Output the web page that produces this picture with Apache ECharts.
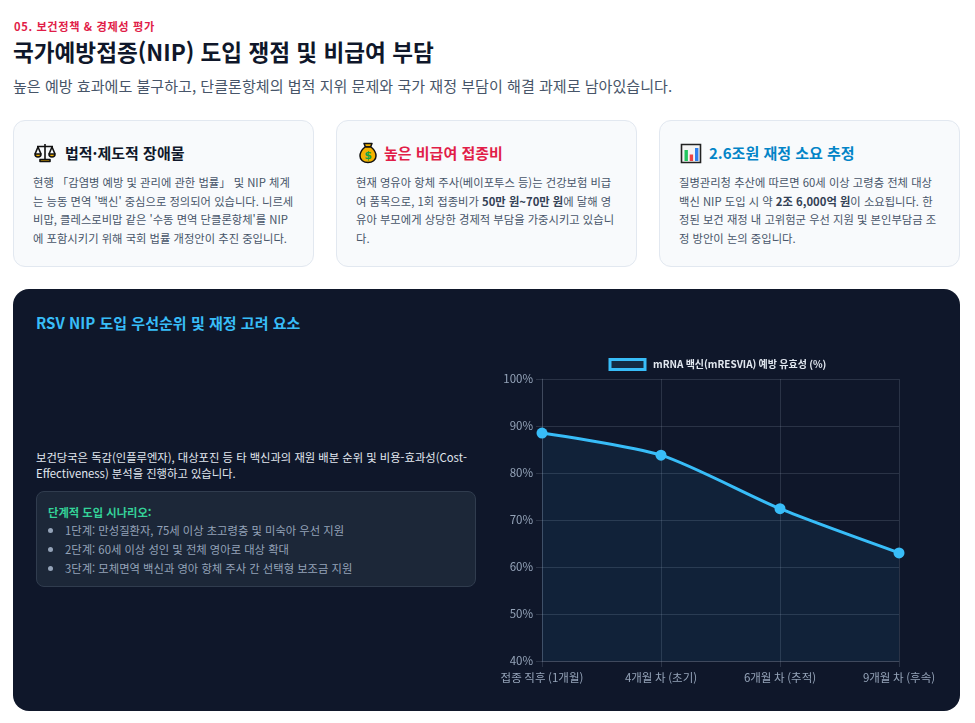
<!DOCTYPE html>
<html lang="ko"><head><meta charset="utf-8">
<script src="https://cdn.jsdelivr.net/npm/echarts@6/dist/echarts.min.js"></script>
<style>
*{box-sizing:border-box}
html,body{margin:0;padding:0;background:#fff;width:975px;height:723px;overflow:hidden;font-family:"Noto Sans CJK KR","Noto Sans",sans-serif}
.abs{position:absolute}
.eyebrow{left:14px;top:18px;font-size:11.2px;font-weight:700;color:#e11d48;letter-spacing:.62px;line-height:16px;white-space:nowrap}
h1{margin:0;left:13px;top:34px;font-size:22.6px;font-weight:700;color:#0f172a;line-height:36px;white-space:nowrap}
.sub{left:13px;top:75px;font-size:15.07px;color:#475569;line-height:22px;white-space:nowrap}
.card{top:120px;width:301px;height:147px;background:#f8fafc;border:1px solid #e2e8f0;border-radius:12px}
.card h3{position:absolute;top:20px;margin:0;font-size:15px;font-weight:700;line-height:24px;color:#0f172a;white-space:nowrap}
.card svg{position:absolute;left:20px;top:21px}
.card p{position:absolute;left:19px;top:52px;margin:0;font-size:11.3px;line-height:18.5px;color:#475569;text-align:left;width:261px}
.card p b{font-weight:700;color:#334155}
.panel{left:13px;top:289px;width:947px;height:422px;background:#0f172a;border-radius:16px}
.ptitle{left:36px;top:311px;font-size:15.05px;font-weight:700;color:#38bdf8;line-height:24px;white-space:nowrap}
.lead{left:36px;top:449px;width:440px;font-size:11.3px;line-height:16px;color:#e2e8f0}
.box{left:36px;top:491px;width:440px;height:96px;background:#1c2738;border:1px solid #303c4e;border-radius:8px}
.box .t{position:absolute;left:11px;top:11px;font-size:11.3px;font-weight:700;color:#34d399;line-height:18px;white-space:nowrap}
.box ul{position:absolute;left:0;top:29px;margin:0;padding:0 0 0 28px;list-style:none;font-size:11.3px;line-height:19px;color:#94a3b8;white-space:nowrap}
.box li{position:relative}
.box li::before{content:"";position:absolute;left:-17px;top:7px;width:5px;height:5px;border-radius:50%;background:#94a3b8}
#chart{left:490px;top:345px;width:460px;height:355px}
</style></head><body>
<div class="abs eyebrow">05. 보건정책 &amp; 경제성 평가</div>
<h1 class="abs">국가예방접종(NIP) 도입 쟁점 및 비급여 부담</h1>
<div class="abs sub">높은 예방 효과에도 불구하고, 단클론항체의 법적 지위 문제와 국가 재정 부담이 해결 과제로 남아있습니다.</div>

<div class="abs card" style="left:13px">
<svg width="22" height="22" viewBox="0 0 22 22"><g stroke="#111" stroke-width="1.6" fill="none" stroke-linejoin="round"><path d="M11 2v15M3 4.5h16"/><path d="M4 5L1 12M4 5l3 7M18 5l-3 7M18 5l3 7"/><path d="M1 12h6a3 3 0 0 1-6 0zM15 12h6a3 3 0 0 1-6 0z" fill="#f5b301"/><path d="M6 19.5h10v-2H6z" fill="#f5b301"/></g></svg>
<h3 style="left:51px">법적·제도적 장애물</h3>
<p>현행 「감염병 예방 및 관리에 관한 법률」 및 NIP 체계는 능동 면역 '백신' 중심으로 정의되어 있습니다. 니르세비맙, 클레스로비맙 같은 '수동 면역 단클론항체'를 NIP에 포함시키기 위해 국회 법률 개정안이 추진 중입니다.</p></div>
<div class="abs card" style="left:336px">
<svg width="22" height="22" viewBox="0 0 22 22"><g stroke="#111" stroke-width="1.5" stroke-linejoin="round"><path d="M7 1.5h8l-1.5 3.5h-5z" fill="#f5b301"/><path d="M8 5h6c3 2.5 5 5 5 9 0 4-3.5 6.5-8 6.5S3 18 3 14c0-4 2-6.5 5-9z" fill="#f5b301"/></g><text x="11" y="17" text-anchor="middle" font-size="11" font-weight="700" fill="#16a34a" font-family="DejaVu Sans">$</text></svg>
<h3 style="left:47px;color:#e11d48">높은 비급여 접종비</h3>
<p>현재 영유아 항체 주사(베이포투스 등)는 건강보험 비급여 품목으로, 1회 접종비가 <b>50만 원~70만 원</b>에 달해 영유아 부모에게 상당한 경제적 부담을 가중시키고 있습니다.</p></div>
<div class="abs card" style="left:659px">
<svg width="22" height="22" viewBox="0 0 22 22"><path d="M1.5 2.5h19v18h-19z" fill="#f4f4f4" stroke="#222" stroke-width="1.6"/><path d="M4.5 8h3.4v11H4.5z" fill="#22c55e"/><path d="M9.7 12.5h3.4V19H9.7z" fill="#ef4444"/><path d="M15 6h3.4v13H15z" fill="#2f80ed"/></svg>
<h3 style="left:49px;color:#0284c7">2.6조원 재정 소요 추정</h3>
<p>질병관리청 추산에 따르면 60세 이상 고령층 전체 대상 백신 NIP 도입 시 약 <b>2조 6,000억 원</b>이 소요됩니다. 한정된 보건 재정 내 고위험군 우선 지원 및 본인부담금 조정 방안이 논의 중입니다.</p></div>

<div class="abs panel"></div>
<div class="abs ptitle">RSV NIP 도입 우선순위 및 재정 고려 요소</div>
<div class="abs lead">보건당국은 독감(인플루엔자), 대상포진 등 타 백신과의 재원 배분 순위 및 비용-효과성(Cost-Effectiveness) 분석을 진행하고 있습니다.</div>
<div class="abs box"><div class="t">단계적 도입 시나리오:</div>
<ul><li>1단계: 만성질환자, 75세 이상 초고령층 및 미숙아 우선 지원</li><li>2단계: 60세 이상 성인 및 전체 영아로 대상 확대</li><li>3단계: 모체면역 백신과 영아 항체 주사 간 선택형 보조금 지원</li></ul></div>
<div class="abs" id="chart"></div>

<script>
const categories = ['접종 직후 (1개월)', '4개월 차 (초기)', '6개월 차 (추적)', '9개월 차 (후속)'];
const seriesName = 'mRNA 백신(mRESVIA) 예방 유효성 (%)';
const efficacy = [88.5, 83.8, 72.4, 63];
const chart = echarts.init(document.getElementById('chart'));
const font = '"Noto Sans CJK KR","Noto Sans",sans-serif';
const lineColor = 'rgba(148,163,184,0.2)';
const gridLine = {show:true, lineStyle:{color:lineColor, width:1}};
chart.setOption({
  animation:false,
  textStyle:{fontFamily:font},
  legend:{top:8, left:113.5, itemWidth:35, itemHeight:10, itemGap:10,
    icon:'rect',
    data:[{name:seriesName, itemStyle:{color:'rgba(56,189,248,0.12)', borderColor:'#38bdf8', borderWidth:3}}],
    textStyle:{color:'#e2e8f0', fontSize:10, fontWeight:700, fontFamily:font, padding:[0,0,0,3]}},
  grid:{left:52, right:51, top:34, bottom:39},
  xAxis:{type:'category', data:categories, boundaryGap:false,
    axisLine:{lineStyle:{color:lineColor}}, axisTick:{show:true, length:6, lineStyle:{color:lineColor}},
    splitLine:gridLine,
    axisLabel:{color:'#94a3b8', fontSize:11.5, margin:11, fontFamily:font, hideOverlap:false, interval:0}},
  yAxis:{type:'value', min:40, max:100, interval:10,
    axisLine:{show:true, lineStyle:{color:lineColor}}, axisTick:{show:true, length:6, lineStyle:{color:lineColor}},
    splitLine:gridLine,
    axisLabel:{color:'#94a3b8', fontSize:11.5, margin:9, formatter:'{value}%', fontFamily:font}},
  series:[{name:seriesName, type:'line', data:efficacy, smooth:0.25,
    symbol:'circle', symbolSize:11,
    lineStyle:{color:'#38bdf8', width:3},
    itemStyle:{color:'#38bdf8'},
    areaStyle:{color:'rgba(56,189,248,0.1)'}}]
});
</script>
</body></html>
